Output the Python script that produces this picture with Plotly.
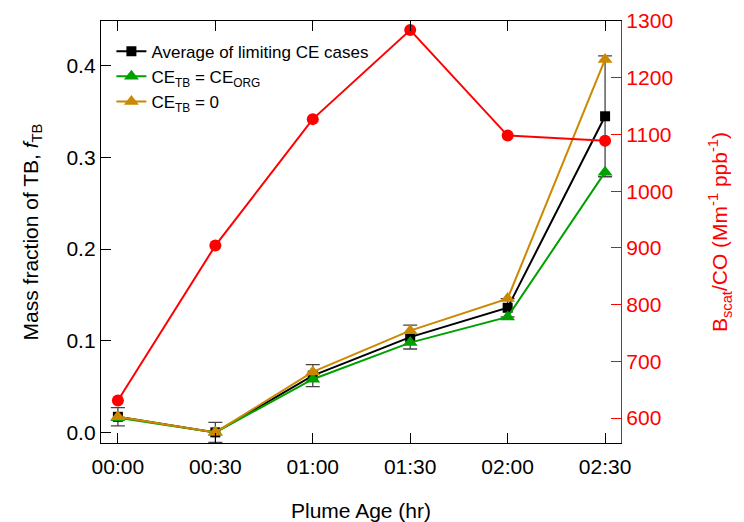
import plotly.graph_objects as go

# Data
age_min = [0, 30, 60, 90, 120, 150]
age_labels = ["00:00", "00:30", "01:00", "01:30", "02:00", "02:30"]
avg_ce = [0.017, 0.000, 0.062, 0.104, 0.136, 0.345]
avg_err = [0.010, 0.011, 0.012, 0.013, 0.010, 0.066]
ce_org = [0.016, 0.000, 0.058, 0.098, 0.126, 0.284]
ce_zero = [0.017, 0.000, 0.066, 0.111, 0.146, 0.407]
bscat_co = [631, 904, 1127, 1284, 1098, 1089]

FONT = "Liberation Sans, Arial, sans-serif"
RED = "#ff0000"
GREEN = "#00a000"
GOLD = "#cc8800"

fig = go.Figure()
fig.add_trace(go.Scatter(
    x=age_min, y=bscat_co, yaxis="y2", mode="lines+markers",
    line=dict(color=RED, width=2), marker=dict(symbol="circle", size=12, color=RED),
    showlegend=False, name="Bscat/CO"))
fig.add_trace(go.Scatter(
    x=age_min, y=avg_ce, mode="lines+markers", name="Average of limiting CE cases",
    line=dict(color="black", width=2), marker=dict(symbol="square", size=10, color="black"),
    error_y=dict(type="data", array=avg_err, color="#444", thickness=1.3, width=7)))
fig.add_trace(go.Scatter(
    x=age_min, y=ce_org, mode="lines+markers", name="CE<sub>TB</sub> = CE<sub>ORG</sub>",
    line=dict(color=GREEN, width=2), marker=dict(symbol="triangle-up", size=13, color=GREEN)))
fig.add_trace(go.Scatter(
    x=age_min, y=ce_zero, mode="lines+markers", name="CE<sub>TB</sub> = 0",
    line=dict(color=GOLD, width=2), marker=dict(symbol="triangle-up", size=13, color=GOLD)))

# page body has an 8px margin, so the figure is 8px smaller and margins shifted
fig.update_layout(
    width=736, height=514,
    margin=dict(l=93, r=123, t=13, b=79),
    paper_bgcolor="white", plot_bgcolor="white",
    font=dict(family=FONT, size=21, color="black"),
    showlegend=True,
    legend=dict(x=0.02, y=0.97, xanchor="left", yanchor="top", bgcolor="rgba(0,0,0,0)",
                font=dict(size=17), tracegroupgap=0, itemwidth=30),
    xaxis=dict(
        range=[-5.2, 154.9], tickvals=age_min, ticktext=age_labels, automargin=False,
        showgrid=False, zeroline=False, showline=True, linecolor="black", linewidth=1.3,
        mirror="ticks", ticks="inside", ticklen=10, tickcolor="black", tickwidth=1.3,
        tickfont=dict(size=21), ticklabelstandoff=5,
        title=dict(text="Plume Age (hr)", font=dict(size=21), standoff=28)),
    yaxis=dict(
        range=[-0.0116, 0.449], tickvals=[0, 0.1, 0.2, 0.3, 0.4],
        ticktext=["0.0", "0.1", "0.2", "0.3", "0.4"], automargin=False,
        showgrid=False, zeroline=False, showline=True, linecolor="black", linewidth=1.3,
        ticks="inside", ticklen=10, tickcolor="black", tickwidth=1.3,
        tickfont=dict(size=21),
        title=dict(text="Mass fraction of TB, <i>f</i><sub>TB</sub>", font=dict(size=21), standoff=22)),
    yaxis2=dict(
        range=[556, 1300], overlaying="y", side="right", automargin=False,
        tickvals=[600, 700, 800, 900, 1000, 1100, 1200, 1300],
        showgrid=False, zeroline=False, showline=True, linecolor=RED, linewidth=1.3,
        ticks="inside", ticklen=10, tickcolor=RED, tickwidth=1.3,
        tickfont=dict(size=21, color=RED),
        title=dict(text="B<sub>scat</sub>/CO (Mm<sup>-1</sup> ppb<sup>-1</sup>)",
                   font=dict(size=21, color=RED), standoff=40)),
)

fig.write_html("out.html")
